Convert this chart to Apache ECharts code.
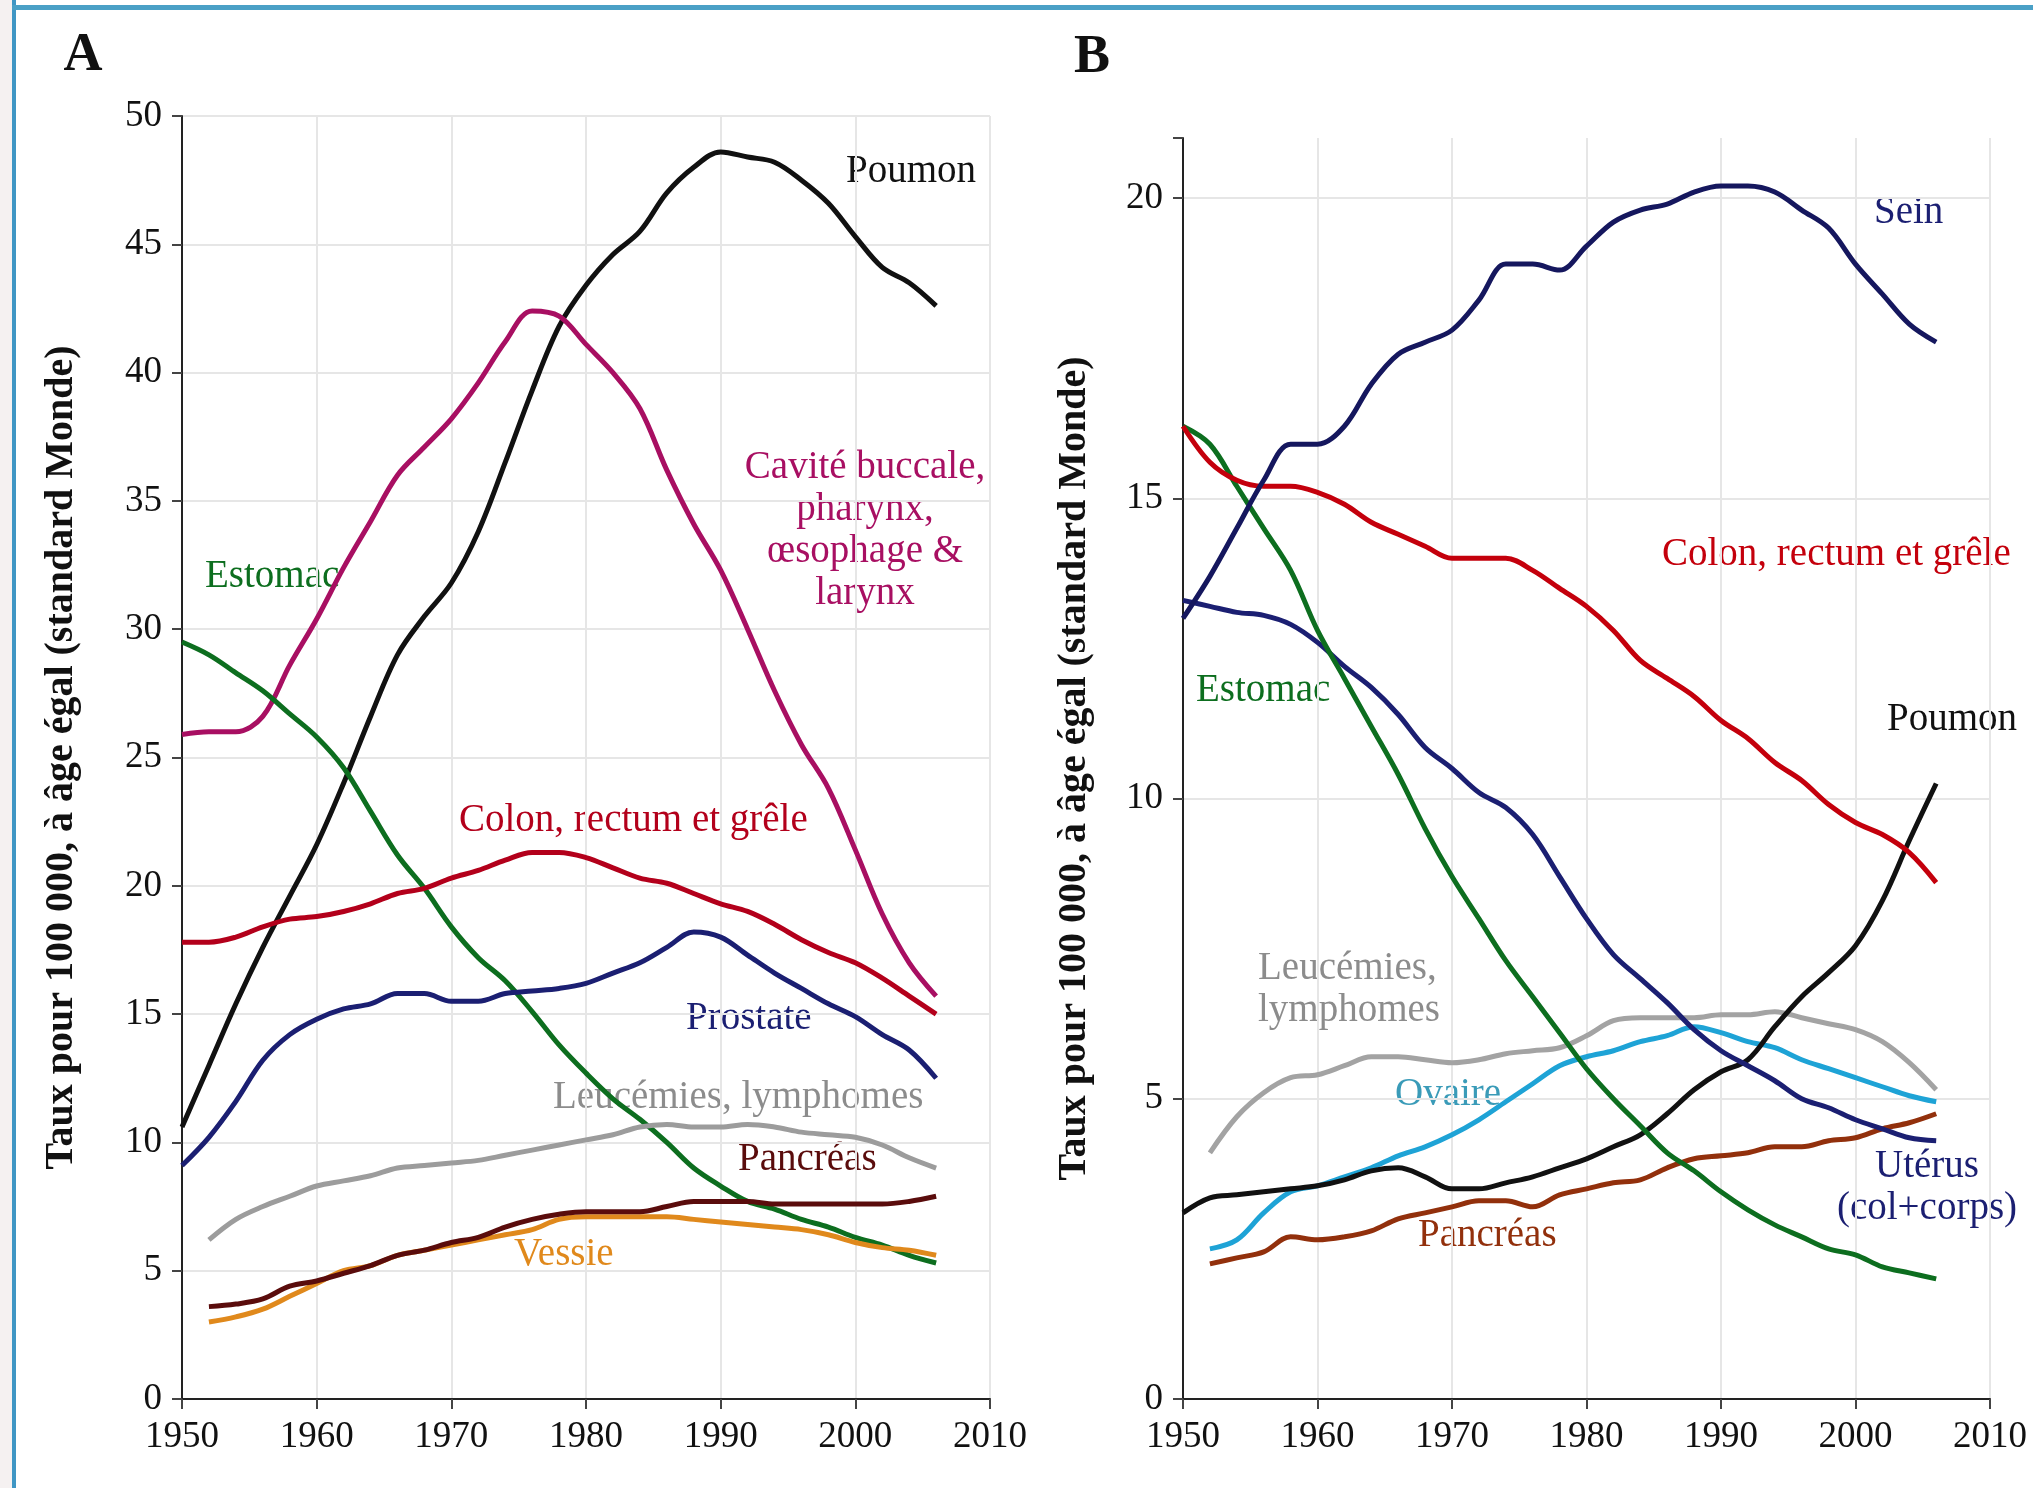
<!DOCTYPE html>
<html>
<head>
<meta charset="utf-8">
<script src="https://cdn.jsdelivr.net/npm/echarts@6/dist/echarts.min.js"></script>
<style>
  html, body { margin: 0; padding: 0; background: #fff; }
  #main { width: 2033px; height: 1488px; }
</style>
</head>
<body>
<div id="main"></div>
<script>
// années (tous les 2 ans)
var years = [1950,1952,1954,1956,1958,1960,1962,1964,1966,1968,1970,1972,1974,1976,1978,
             1980,1982,1984,1986,1988,1990,1992,1994,1996,1998,2000,2002,2004,2006];
var xTicks = [1950, 1960, 1970, 1980, 1990, 2000, 2010];

// A - hommes
var aPoumon   = [10.6,13.0,15.4,17.6,19.6,21.6,24.0,26.6,29.0,30.5,31.8,33.8,36.5,39.3,41.8,43.4,44.6,45.5,47.0,48.0,48.6,48.4,48.2,47.5,46.6,45.3,44.1,43.5,42.6];
var aCavite   = [25.9,26.0,26.0,26.6,28.6,30.4,32.4,34.2,36.0,37.1,38.2,39.6,41.2,42.4,42.2,41.1,40.0,38.6,36.2,34.1,32.3,30.0,27.6,25.5,23.8,21.4,18.9,17.0,15.7];
var aEstomac  = [29.5,29.0,28.3,27.6,26.7,25.8,24.6,22.9,21.2,19.9,18.4,17.2,16.3,15.1,13.8,12.7,11.7,10.9,10.0,9.0,8.3,7.7,7.4,7.0,6.7,6.3,6.0,5.6,5.3];
var aColon    = [17.8,17.8,18.0,18.4,18.7,18.8,19.0,19.3,19.7,19.9,20.3,20.6,21.0,21.3,21.3,21.1,20.7,20.3,20.1,19.7,19.3,19.0,18.5,17.9,17.4,17.0,16.4,15.7,15.0];
var aProstate = [9.1,10.2,11.6,13.2,14.2,14.8,15.2,15.4,15.8,15.8,15.5,15.5,15.8,15.9,16.0,16.2,16.6,17.0,17.6,18.2,18.0,17.3,16.6,16.0,15.4,14.9,14.2,13.6,12.5];
var aLeucemie = [null,6.2,7.0,7.5,7.9,8.3,8.5,8.7,9.0,9.1,9.2,9.3,9.5,9.7,9.9,10.1,10.3,10.6,10.7,10.6,10.6,10.7,10.6,10.4,10.3,10.2,9.9,9.4,9.0];
var aPancreas = [null,3.6,3.7,3.9,4.4,4.6,4.9,5.2,5.6,5.8,6.1,6.3,6.7,7.0,7.2,7.3,7.3,7.3,7.5,7.7,7.7,7.7,7.6,7.6,7.6,7.6,7.6,7.7,7.9];
var aVessie   = [null,3.0,3.2,3.5,4.0,4.5,5.0,5.2,5.6,5.8,6.0,6.2,6.4,6.6,7.0,7.1,7.1,7.1,7.1,7.0,6.9,6.8,6.7,6.6,6.4,6.1,5.9,5.8,5.6];

// B - femmes
var bSein     = [13.0,13.7,14.5,15.3,15.9,15.9,16.2,16.9,17.4,17.6,17.8,18.3,18.9,18.9,18.8,19.2,19.6,19.8,19.9,20.1,20.2,20.2,20.1,19.8,19.5,18.9,18.4,17.9,17.6];
var bColon    = [16.2,15.6,15.3,15.2,15.2,15.1,14.9,14.6,14.4,14.2,14.0,14.0,14.0,13.8,13.5,13.2,12.8,12.3,12.0,11.7,11.3,11.0,10.6,10.3,9.9,9.6,9.4,9.1,8.6];
var bEstomac  = [16.2,15.9,15.2,14.5,13.8,12.8,12.0,11.2,10.4,9.5,8.7,8.0,7.3,6.7,6.1,5.5,5.0,4.55,4.1,3.8,3.45,3.15,2.9,2.7,2.5,2.4,2.2,2.1,2.0];
var bUterus   = [13.3,13.2,13.1,13.05,12.9,12.6,12.2,11.85,11.4,10.85,10.5,10.1,9.85,9.4,8.7,8.0,7.4,7.0,6.6,6.15,5.8,5.55,5.3,5.0,4.85,4.65,4.5,4.35,4.3];
var bPoumon   = [3.1,3.35,3.4,3.45,3.5,3.55,3.65,3.8,3.85,3.7,3.5,3.5,3.6,3.7,3.85,4.0,4.2,4.4,4.75,5.15,5.45,5.65,6.2,6.7,7.1,7.55,8.3,9.3,10.25];
var bLeucemie = [null,4.1,4.7,5.1,5.35,5.4,5.55,5.7,5.7,5.65,5.6,5.65,5.75,5.8,5.85,6.05,6.3,6.35,6.35,6.35,6.4,6.4,6.45,6.35,6.25,6.15,5.95,5.6,5.15];
var bOvaire   = [null,2.5,2.65,3.1,3.45,3.55,3.7,3.85,4.05,4.2,4.4,4.65,4.95,5.25,5.55,5.7,5.8,5.95,6.05,6.2,6.1,5.95,5.85,5.65,5.5,5.35,5.2,5.05,4.95];
var bPancreas = [null,2.25,2.35,2.45,2.7,2.65,2.7,2.8,3.0,3.1,3.2,3.3,3.3,3.2,3.4,3.5,3.6,3.65,3.85,4.0,4.05,4.1,4.2,4.2,4.3,4.35,4.5,4.6,4.75];

var SERIF = 'Liberation Serif';

function pairs(vals) {
  var out = [];
  years.forEach(function (y, i) {
    if (vals[i] != null) out.push([y, vals[i]]);
  });
  return out;
}

function line(name, vals, color, gi) {
  return {
    name: name, type: 'line', xAxisIndex: gi, yAxisIndex: gi,
    data: pairs(vals), smooth: 0.35, showSymbol: false,
    lineStyle: { color: color, width: 5 },
    emphasis: { disabled: true }
  };
}

var tickText = { color: '#111', fontFamily: SERIF, fontSize: 37 };

function xAx(gi) {
  return {
    type: 'value', gridIndex: gi, min: 1950, max: 2010, interval: 10,
    axisLine: { lineStyle: { color: '#222', width: 2 } },
    axisTick: { show: true, length: 10, lineStyle: { color: '#444', width: 2 } },
    axisLabel: Object.assign({ margin: 20,
      formatter: function (v) { return xTicks.indexOf(v) >= 0 ? String(v) : ''; } }, tickText),
    splitLine: { show: true, lineStyle: { color: '#e6e6e6', width: 2 } }
  };
}

function yAx(gi, max, gap) {
  return {
    type: 'value', gridIndex: gi, min: 0, max: max, interval: 5,
    name: 'Taux pour 100 000, à âge égal (standard Monde)',
    nameLocation: 'middle', nameGap: gap,
    nameTextStyle: { fontFamily: SERIF, fontWeight: 'bold', fontSize: 40, color: '#111' },
    axisLine: { show: true, lineStyle: { color: '#222', width: 2 } },
    axisTick: { show: true, length: 10, lineStyle: { color: '#444', width: 2 } },
    axisLabel: Object.assign({ margin: 20,
      formatter: function (v) { return v % 5 === 0 ? String(v) : ''; } }, tickText),
    splitLine: { show: true, showMaxLine: max % 5 === 0,
                 lineStyle: { color: '#e6e6e6', width: 2 } }
  };
}

function label(text, x, y, color, align) {
  return {
    type: 'text', x: x, y: y, silent: true,
    style: { text: text, fill: color, font: '39px "Liberation Serif"',
             align: align || 'left', verticalAlign: 'middle', lineHeight: 42 }
  };
}

var C = {
  black: '#111111', magenta: '#a80f62', green: '#0d6e1f', darkred: '#b3001b',
  red: '#c4000c', navy: '#1b1f72', gray: '#9c9c9c', brown: '#5a0c0c',
  orange: '#e0891c', cyan: '#1ea3d6', rust: '#92300c'
};

var myChart = echarts.init(document.getElementById('main'));
var option = {
  backgroundColor: '#ffffff',
  animation: false,
  grid: [
    { left: 182, top: 116, width: 808, bottom: 89 },
    { left: 1183, top: 138, width: 807, bottom: 89 }
  ],
  xAxis: [xAx(0), xAx(1)],
  yAxis: [yAx(0, 50, 100), yAx(1, 21, 88)],
  series: [
    line('Poumon', aPoumon, C.black, 0),
    line('Cavité buccale', aCavite, C.magenta, 0),
    line('Estomac', aEstomac, C.green, 0),
    line('Colon, rectum et grêle', aColon, C.darkred, 0),
    line('Prostate', aProstate, C.navy, 0),
    line('Leucémies, lymphomes', aLeucemie, C.gray, 0),
    line('Vessie', aVessie, C.orange, 0),
    line('Pancréas', aPancreas, C.brown, 0),

    line('Leucémies, lymphomes', bLeucemie, '#a3a3a3', 1),
    line('Ovaire', bOvaire, C.cyan, 1),
    line('Pancréas', bPancreas, C.rust, 1),
    line('Poumon', bPoumon, C.black, 1),
    line('Utérus', bUterus, C.navy, 1),
    line('Estomac', bEstomac, C.green, 1),
    line('Colon, rectum et grêle', bColon, C.red, 1),
    line('Sein', bSein, '#15175e', 1)
  ],
  graphic: [
    { type: 'rect', shape: { x: 0, y: 0, width: 12, height: 1488 }, style: { fill: '#f5f1f1' }, silent: true },
    { type: 'rect', shape: { x: 12, y: 0, width: 4, height: 1488 }, style: { fill: '#3f96c4' }, silent: true },
    { type: 'rect', shape: { x: 12, y: 5, width: 2021, height: 5 }, style: { fill: '#4aa0c6' }, silent: true },
    { type: 'text', x: 83, y: 56, style: { text: 'A', font: 'bold 54px "Liberation Serif"', fill: '#111', align: 'center', verticalAlign: 'middle' } },
    { type: 'text', x: 1092, y: 58, style: { text: 'B', font: 'bold 54px "Liberation Serif"', fill: '#111', align: 'center', verticalAlign: 'middle' } },

    label('Poumon', 846, 172, C.black),
    label('Cavité buccale,\npharynx,\nœsophage &\nlarynx', 865, 531, C.magenta, 'center'),
    label('Estomac', 205, 577, C.green),
    label('Colon, rectum et grêle', 459, 821, C.darkred),
    label('Prostate', 686, 1019, C.navy),
    label('Leucémies, lymphomes', 553, 1098, '#8c8c8c'),
    label('Pancréas', 738, 1160, C.brown),
    label('Vessie', 514, 1255, C.orange),

    label('Sein', 1874, 213, C.navy),
    label('Colon, rectum et grêle', 1662, 555, C.red),
    label('Estomac', 1196, 691, C.green),
    label('Poumon', 1887, 720, C.black),
    label('Leucémies,\nlymphomes', 1258, 990, '#8c8c8c'),
    label('Ovaire', 1395, 1095, '#3a9bb8'),
    label('Utérus\n(col+corps)', 1927, 1188, C.navy, 'center'),
    label('Pancréas', 1418, 1236, C.rust)
  ]
};
myChart.setOption(option);
</script>
</body>
</html>
